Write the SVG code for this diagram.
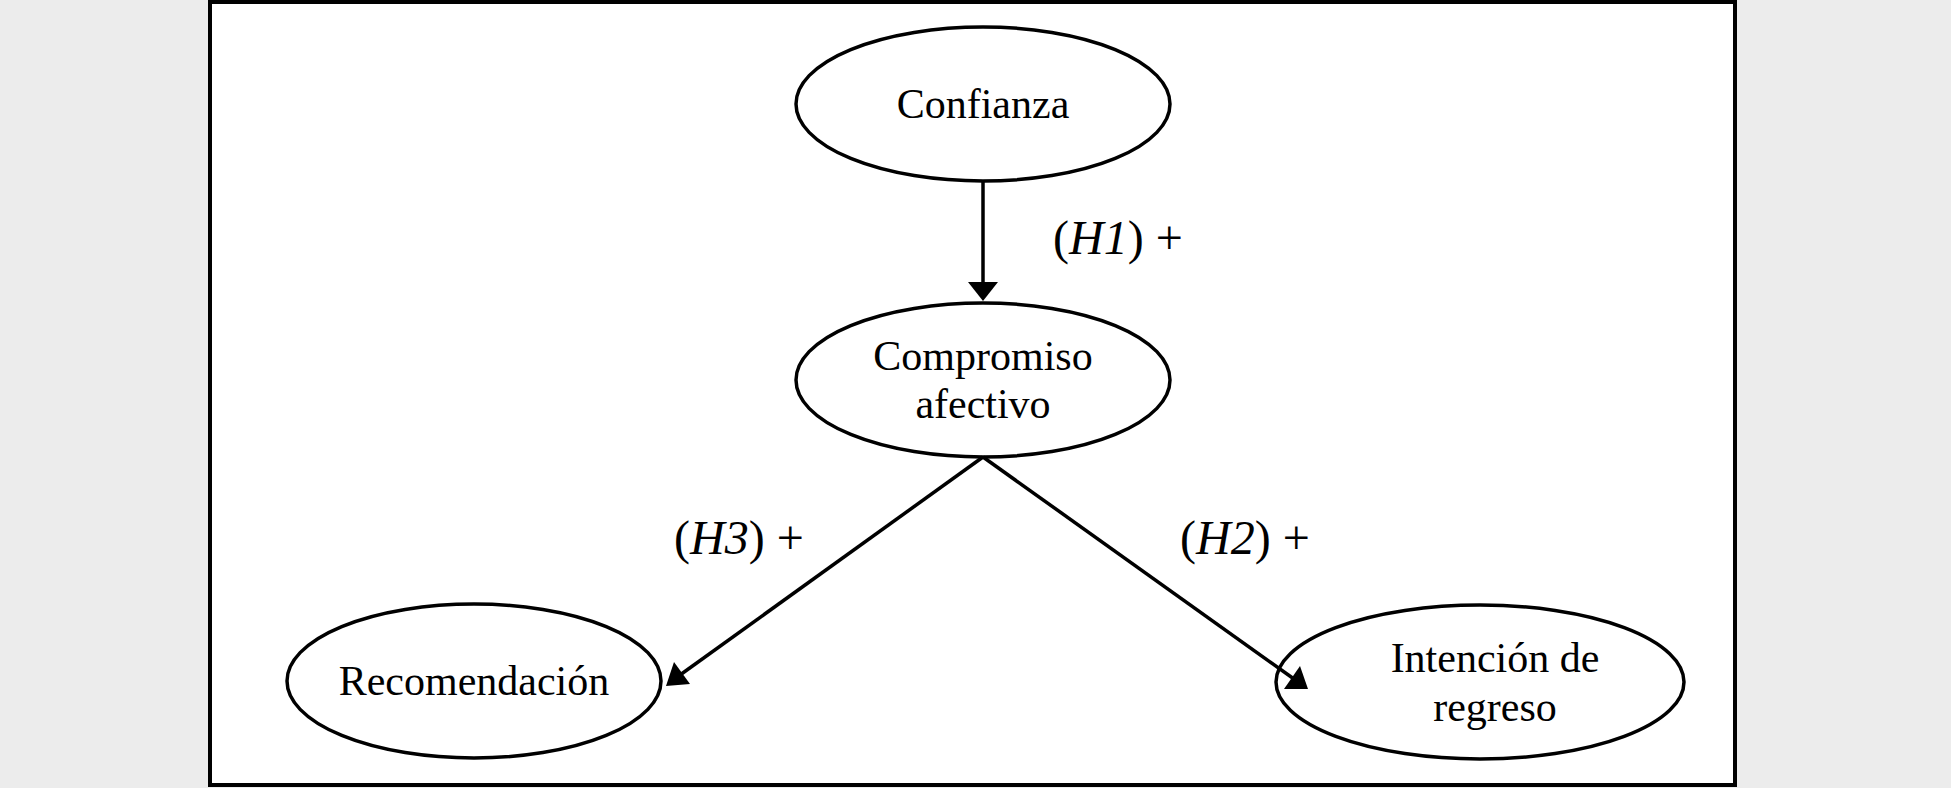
<svg xmlns="http://www.w3.org/2000/svg" width="1951" height="788" viewBox="0 0 1951 788">
<style>
.n{fill:#fff;stroke:#000;stroke-width:3.5}
.t{font-family:"Liberation Serif",serif;font-size:42px;text-anchor:middle;fill:#000}
.l{font-family:"Liberation Serif",serif;font-size:48px;fill:#000}
</style>
<rect width="1951" height="788" fill="#ececec"/>
<rect x="210" y="2" width="1525" height="783" fill="#fff" stroke="#000" stroke-width="4"/>
<g id="confianza"><ellipse class="n" cx="983" cy="104" rx="187" ry="77"/><text class="t" x="983" y="118">Confianza</text></g>
<g id="compromiso"><ellipse class="n" cx="983" cy="380" rx="187" ry="77"/><text class="t" x="983" y="370">Compromiso</text><text class="t" x="983" y="418">afectivo</text></g>
<g id="recomendacion"><ellipse class="n" cx="474" cy="681" rx="187" ry="77"/><text class="t" x="474" y="695">Recomendación</text></g>
<g id="intencion"><ellipse class="n" cx="1480" cy="682" rx="204" ry="77"/><text class="t" x="1495" y="672">Intención de</text><text class="t" x="1495" y="721">regreso</text></g>
<g id="connectors">
<line x1="983" y1="182" x2="983" y2="285" stroke="#000" stroke-width="3.5"/>
<path d="M968,282L998,282L983,301z"/>
<line x1="983" y1="457" x2="680" y2="675" stroke="#000" stroke-width="3.5"/>
<path d="M666,686L674,662L690,684z"/>
<line x1="983" y1="457" x2="1294" y2="679" stroke="#000" stroke-width="3.5"/>
<path d="M1308,689L1284,689L1300,666z"/>
<text class="l" x="1053" y="254">(<tspan font-style="italic">H1</tspan>) +</text>
<text class="l" x="674" y="554">(<tspan font-style="italic">H3</tspan>) +</text>
<text class="l" x="1180" y="554">(<tspan font-style="italic">H2</tspan>) +</text>
</g>
</svg>
